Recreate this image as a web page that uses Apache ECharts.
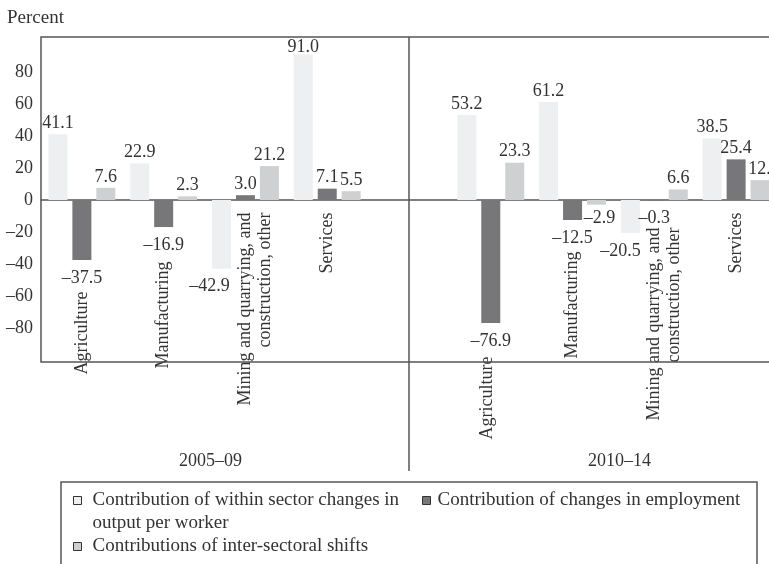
<!DOCTYPE html>
<html><head><meta charset="utf-8">
<script src="https://cdn.jsdelivr.net/npm/echarts@6/dist/echarts.min.js"></script>
<style>html,body{margin:0;padding:0;background:#fff}#chart{width:769px;height:564px}</style>
</head><body><div id="chart"></div>
<script>
// ---- data ----
const periods = ['2005\u201309', '2010\u201314'];
const sectors = ['Agriculture', 'Manufacturing', 'Mining and quarrying, and\nconstruction, other', 'Services'];
const seriesNames = [
  'Contribution of within sector changes in\noutput per worker',
  'Contribution of changes in employment',
  'Contributions of inter-sectoral shifts'
];
const within2005 = [41.1, 22.9, -42.9, 91.0];
const within2010 = [53.2, 61.2, -20.5, 38.5];
const employment2005 = [-37.5, -16.9, 3.0, 7.1];
const employment2010 = [-76.9, -12.5, -0.3, 25.4];
const shifts2005 = [7.6, 2.3, 21.2, 5.5];
const shifts2010 = [23.3, -2.9, 6.6, 12.4];
const yTickLabels = [-80, -60, -40, -20, 0, 20, 40, 60, 80];

// ---- styling / layout (not data) ----
const FONT = '"Liberation Serif", "DejaVu Serif", serif';
const TXT = '#333';
const colors = ['#eeeff0', '#77777a', '#cfd0d1'];
const catLabelPad = [[0, 79, 0, 0], [0, 49, 0, 0], [0, 0, 0, 0], [0, 0, 0, 0], [0, 0, 0, 0],
                     [0, 144, 8, 0], [0, 39, 0, 0], [0, 15, 0, 0], [0, 0, 0, 0]];
const labelShift = { '0-2': [-12, 0], '0-7': [-10, 0], '2-8': [4, 0], '2-6': [3, -4], '0-3': [0, 4] };
const FRAME_TOP = 37, FRAME_BOTTOM = 362;
const GRID_TOP = 40, GRID_BOTTOM_Y = 360;

const categories = [...sectors, '', ...sectors];
const joinPeriods = (a, b) => [...a, null, ...b];
const raw = [
  joinPeriods(within2005, within2010),
  joinPeriods(employment2005, employment2010),
  joinPeriods(shifts2005, shifts2010)
];
const fmt = v => (v < 0 ? '\u2013' : '') + Math.abs(v).toFixed(1);

const rich = {};
catLabelPad.forEach((p, i) => {
  rich['p' + i] = { padding: p, fontSize: 18, fontFamily: FONT, color: TXT, lineHeight: 20 };
});
const catLabel = (val, idx) => {
  if (!val) return '';
  const lines = val.split('\n');
  if (lines.length > 1) lines.unshift(' ');
  return lines.map(l => '{p' + idx + '|' + l + '}').join('\n');
};

const series = raw.map((arr, s) => ({
  name: seriesNames[s],
  type: 'bar',
  barWidth: 19,
  barGap: '26%',
  itemStyle: { color: colors[s] },
  data: arr.map((v, i) => v === null ? '-' : {
    value: v,
    label: {
      show: true,
      position: v < 0 ? 'bottom' : 'top',
      distance: v < 0 ? 9 : 2,
      offset: labelShift[s + '-' + i] || [0, 0],
      formatter: p => fmt(p.value),
      fontSize: 18, fontFamily: FONT, color: TXT
    }
  })
}));

const legendText = pad => ({ fontSize: 19, fontFamily: FONT, color: TXT, lineHeight: 23, padding: [0, 0, 0, pad] });
const legendBase = { padding: 0, itemWidth: 8, itemHeight: 8, icon: 'rect', itemStyle: { borderColor: '#333', borderWidth: 1 } };
const chart = echarts.init(document.getElementById('chart'), null, { renderer: 'canvas' });
const option = {
  animation: false,
  backgroundColor: '#fff',
  title: { text: 'Percent', left: 2, top: 4, textStyle: { fontSize: 19, fontWeight: 'normal', fontFamily: FONT, color: TXT } },
  grid: { left: 41, top: GRID_TOP, right: -8, bottom: 564 - GRID_BOTTOM_Y, show: false,
          containLabel: false, outerBoundsMode: 'none' },
  legend: [
    Object.assign({ data: [seriesNames[0]], left: 73, top: 466, formatter: n => '\n' + n, textStyle: legendText(6) }, legendBase),
    Object.assign({ data: [seriesNames[1]], left: 422, top: 489, textStyle: legendText(2) }, legendBase),
    Object.assign({ data: [seriesNames[2]], left: 73, top: 535, textStyle: legendText(6) }, legendBase)
  ],
  xAxis: {
    type: 'category',
    data: categories,
    axisLine: { onZero: true, lineStyle: { color: '#555', width: 1.5 } },
    axisTick: { show: false },
    axisLabel: {
      interval: 0, rotate: 90, margin: 212.5 - GRID_BOTTOM_Y,
      formatter: catLabel,
      rich: rich
    }
  },
  yAxis: {
    type: 'value', min: -100, max: 100, interval: 20,
    axisLine: { show: false }, axisTick: { show: false }, splitLine: { show: false },
    axisLabel: {
      margin: 8, fontSize: 18, fontFamily: FONT, color: TXT,
      formatter: v => yTickLabels.indexOf(v) >= 0 ? (v < 0 ? '\u2013' + Math.abs(v) : String(v)) : ''
    }
  },
  series: series
};
chart.setOption(option);

// frame, divider and period labels placed through the axis scale
const c = i => chart.convertToPixel({ xAxisIndex: 0 }, i);
const gapX = c(4);
chart.setOption({
  graphic: [
    { type: 'rect', shape: { x: 41, y: FRAME_TOP, width: 760, height: FRAME_BOTTOM - FRAME_TOP }, style: { fill: 'none', stroke: '#555', lineWidth: 1.5 }, z: 10 },
    { type: 'line', shape: { x1: gapX, y1: FRAME_TOP, x2: gapX, y2: 471 }, style: { stroke: '#555', lineWidth: 1.5 }, z: 10 },
    { type: 'text', x: (c(1) + c(2)) / 2 + 6, y: 461, style: { text: periods[0], fontSize: 18, fontFamily: FONT, fill: TXT, align: 'center', verticalAlign: 'middle' } },
    { type: 'text', x: (c(6) + c(7)) / 2 + 6, y: 461, style: { text: periods[1], fontSize: 18, fontFamily: FONT, fill: TXT, align: 'center', verticalAlign: 'middle' } },
    { type: 'rect', shape: { x: 61, y: 482, width: 696, height: 120 }, style: { fill: 'none', stroke: '#555', lineWidth: 1.5 } }
  ]
});
</script>
</body></html>
